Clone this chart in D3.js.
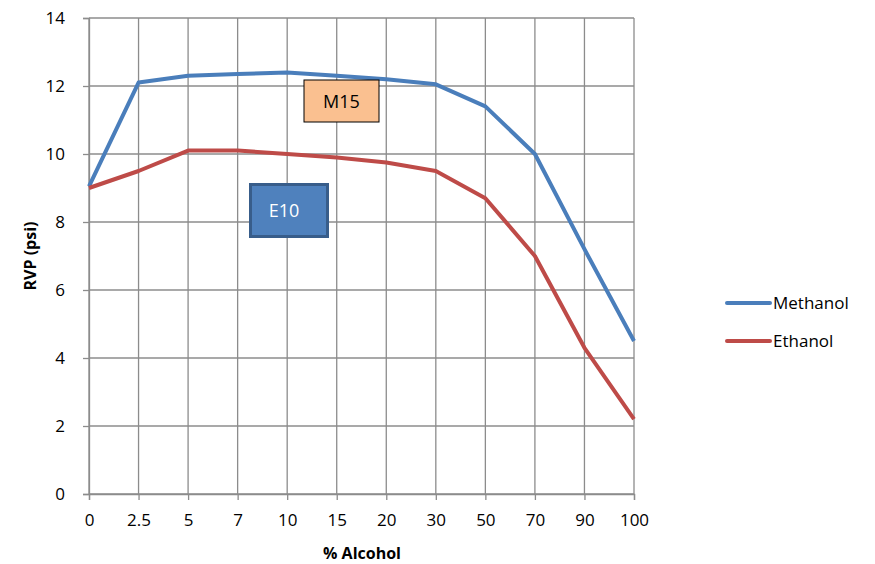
<!DOCTYPE html>
<html><head><meta charset="utf-8">
<script src="https://cdn.jsdelivr.net/npm/d3@7"></script>
<style>body{margin:0;background:#fff}svg{display:block}text{font-family:"Open Sans","Liberation Sans",sans-serif}</style>
</head><body><svg id="c" width="875" height="564"></svg>
<script>
const categories = ["0","2.5","5","7","10","15","20","30","50","70","90","100"];
const methanol = [9.05,12.1,12.3,12.35,12.4,12.3,12.2,12.05,11.4,10.0,7.2,4.5];
const ethanol  = [9.0,9.5,10.1,10.1,10.0,9.9,9.75,9.5,8.7,7.0,4.3,2.2];
const yTicks = [0,2,4,6,8,10,12,14];
const seriesNames = ["Methanol","Ethanol"];
const colors = ["#4A7EBB","#BE4B48"];

const svg = d3.select("#c");
const L=89, R=634, T=18, B=494;
const x = d3.scalePoint().domain(categories).range([L,R]);
const y = d3.scaleLinear().domain([0,14]).range([B,T]);
const grid = "#8c8c8c";

svg.append("g").selectAll("line").data(yTicks).join("line")
  .attr("x1",L).attr("x2",R).attr("y1",d=>y(d)).attr("y2",d=>y(d))
  .attr("stroke",grid).attr("stroke-width",1.3);
svg.append("g").selectAll("line").data(categories).join("line")
  .attr("x1",d=>x(d)).attr("x2",d=>x(d)).attr("y1",T).attr("y2",B)
  .attr("stroke",grid).attr("stroke-width",1.3);

const xa = svg.append("g").attr("transform",`translate(0,${B})`)
  .call(d3.axisBottom(x).tickSize(6).tickPadding(14));
const ya = svg.append("g").attr("transform",`translate(${L},0)`)
  .call(d3.axisLeft(y).tickValues(yTicks).tickSize(6).tickPadding(18));
[xa,ya].forEach(g=>{
  g.selectAll("path").attr("stroke",grid).attr("stroke-width",1.3);
  g.selectAll("line").attr("stroke",grid).attr("stroke-width",1.3);
  g.selectAll("text").attr("font-size",17).attr("fill","#000")
   .attr("font-family","'Open Sans','Liberation Sans',sans-serif");
});

const line = d3.line().x((d,i)=>x(categories[i])).y(d=>y(d));
[methanol,ethanol].forEach((s,i)=>{
  svg.append("path").datum(s).attr("d",line).attr("fill","none")
    .attr("stroke",colors[i]).attr("stroke-width",4).attr("stroke-linejoin","round");
});

svg.append("text").attr("x",362).attr("y",559).attr("text-anchor","middle")
  .attr("font-size",16).attr("font-weight","bold").text("% Alcohol");
svg.append("text").attr("transform","translate(36,256) rotate(-90)").attr("text-anchor","middle")
  .attr("font-size",16).attr("font-weight","bold").text("RVP (psi)");

svg.append("rect").attr("x",304).attr("y",80).attr("width",75).attr("height",42)
  .attr("fill","#FAC090").attr("stroke","#000").attr("stroke-width",1);
svg.append("text").attr("x",341.5).attr("y",108).attr("text-anchor","middle")
  .attr("font-size",18).attr("fill","#000").text("M15");
svg.append("rect").attr("x",250.5).attr("y",184.5).attr("width",77).attr("height",52)
  .attr("fill","#4F81BD").attr("stroke","#385D8A").attr("stroke-width",3);
svg.append("text").attr("x",284).attr("y",217).attr("text-anchor","middle")
  .attr("font-size",18).attr("fill","#fff").text("E10");

seriesNames.forEach((n,i)=>{
  const ly = 303 + i*38;
  svg.append("line").attr("x1",727).attr("x2",770).attr("y1",ly).attr("y2",ly)
    .attr("stroke",colors[i]).attr("stroke-width",4).attr("stroke-linecap","round");
  svg.append("text").attr("x",773).attr("y",ly+6).attr("font-size",17).text(n);
});
</script></body></html>
